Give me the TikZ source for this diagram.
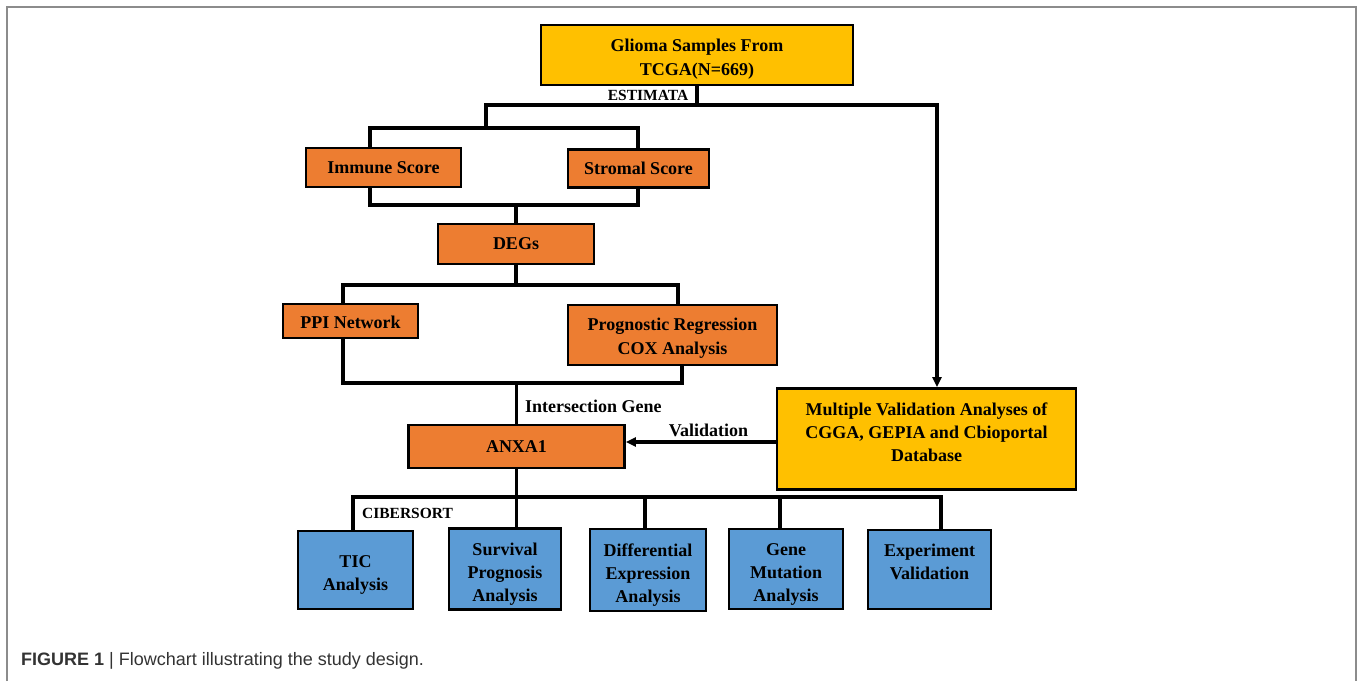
\documentclass[tikz,border=0pt]{standalone}
\usepackage{fontspec}
\setmainfont{Liberation Serif}
\newfontfamily\capfont{Liberation Sans}
\usetikzlibrary{arrows.meta}
\definecolor{goldbox}{HTML}{FFC000}
\definecolor{orangebox}{HTML}{ED7D31}
\definecolor{bluebox}{HTML}{5B9BD5}
\definecolor{framegray}{HTML}{8C8C8C}
\newcommand\topgap[1]{\rule{0pt}{#1}}
\newcommand\botgap[1]{\rule[-#1]{0pt}{0pt}}
\begin{document}
\begin{tikzpicture}[x=1pt,y=-1pt,
  box/.style={draw=black, line width=2.8pt, align=center, inner sep=2pt,
    font=\bfseries\fontsize{18}{23}\selectfont},
  gbox/.style={box, fill=goldbox},
  obox/.style={box, fill=orangebox},
  bbox/.style={box, fill=bluebox},
  conn/.style={draw=black, line width=3.1pt},
  arr/.style={conn, -{Triangle[length=10pt,width=9pt]}},
  lab/.style={inner sep=0pt, font=\bfseries\fontsize{18}{22}\selectfont},
  slab/.style={inner sep=0pt, font=\bfseries\fontsize{15.5}{18}\selectfont},
  capt/.style={inner sep=0pt, text=black!80, font=\capfont\fontsize{18}{22}\selectfont}
]
\useasboundingbox (0,0) rectangle (1360,681);
% frame
\coordinate (fBL) at (7,681);
\coordinate (fTL) at (7,7);
\coordinate (fTR) at (1356,7);
\coordinate (fBR) at (1356,681);
\draw[framegray, line width=1.8pt] (fBL) -- (fTL) -- (fTR) -- (fBR);

% nodes
\node[gbox, minimum width=312pt, minimum height=60pt] (glioma) at (697,55)
  {\topgap{21pt}Glioma Samples From\\[1pt]TCGA(N=669)};
\node[obox, minimum width=155pt, minimum height=39pt] (immune) at (383.5,167.5) {Immune Score};
\node[obox, minimum width=141pt, minimum height=38pt] (stromal) at (638.5,168.5) {Stromal Score};
\node[obox, minimum width=156pt, minimum height=40pt] (degs) at (516,244) {DEGs};
\node[obox, minimum width=135pt, minimum height=34pt] (ppi) at (350.5,321) {\topgap{16pt}PPI Network};
\node[obox, minimum width=209pt, minimum height=60pt] (prog) at (672.5,335)
  {\topgap{19pt}Prognostic Regression\\[1pt]COX Analysis};
\node[obox, minimum width=216pt, minimum height=43pt] (anxa) at (516.5,446.5) {ANXA1};
\node[gbox, minimum width=299pt, minimum height=101pt] (multi) at (926.5,439)
  {Multiple Validation Analyses of\\CGGA, GEPIA and Cbioportal\\Database\botgap{14pt}};
\node[bbox, minimum width=115pt, minimum height=78pt] (tic) at (355.5,570) {\topgap{22pt}TIC\\Analysis};
\node[bbox, minimum width=112pt, minimum height=81pt] (surv) at (505,569) {\topgap{22pt}Survival\\Prognosis\\Analysis};
\node[bbox, minimum width=116pt, minimum height=82pt] (diff) at (648,570) {\topgap{22pt}Differential\\Expression\\Analysis};
\node[bbox, minimum width=114pt, minimum height=80pt] (gene) at (786,569) {\topgap{22pt}Gene\\Mutation\\Analysis};
\node[bbox, minimum width=123pt, minimum height=79pt] (expt) at (929.5,569.5) {\topgap{22pt}Experiment\\Validation\\[-4pt]\strut};

% bus coordinates
\coordinate (b1L) at (486,105);
\coordinate (b1R) at (937,105);
\coordinate (b2L) at (370,128);
\coordinate (b2R) at (638,128);
\coordinate (b3L) at (370,205);
\coordinate (b3R) at (638,205);
\coordinate (b4L) at (343,285);
\coordinate (b4R) at (678,285);
\coordinate (b5L) at (343,383);
\coordinate (b5R) at (682,383);
\coordinate (b6L) at (353,497);
\coordinate (b6R) at (941,497);
\coordinate (d3) at (645,497);
\coordinate (d4) at (780,497);
\coordinate (vin) at ([yshift=-3pt]multi.west);

% connectors
\draw[conn] (glioma.south) -- (glioma.south |- b1L);
\draw[arr] (b1L |- b2L) -- (b1L) -- (b1R) -- (b1R |- multi.north);
\draw[conn] (immune.north -| b2L) -- (b2L) -- (b2R) -- (stromal.north -| b2R);
\draw[conn] (immune.south -| b3L) -- (b3L) -- (b3R) -- (stromal.south -| b3R);
\draw[conn] (degs.north |- b3L) -- (degs.north);
\draw[conn] (degs.south) -- (degs.south |- b4L);
\draw[conn] (ppi.north -| b4L) -- (b4L) -- (b4R) -- (prog.north -| b4R);
\draw[conn] (ppi.south -| b5L) -- (b5L) -- (b5R) -- (prog.south -| b5R);
\draw[conn] (anxa.north |- b5L) -- (anxa.north);
\draw[arr] (vin) -- (vin -| anxa.east);
\draw[conn] (anxa.south) -- (anxa.south |- surv.north);
\draw[conn] (tic.north -| b6L) -- (b6L) -- (b6R) -- (expt.north -| b6R);
\draw[conn] (d3) -- (d3 |- diff.north);
\draw[conn] (d4) -- (d4 |- gene.north);

% labels
\node[slab] (estimata) at (648,95) {ESTIMATA};
\node[lab, anchor=west] (inter) at (525,406) {Intersection Gene};
\node[lab] (valid) at (708.5,430) {Validation};
\node[slab] (cibersort) at (407.5,513) {CIBERSORT};

% caption
\node[capt, anchor=west] (caption) at (21,661) {{\bfseries FIGURE 1} | Flowchart illustrating the study design.};
\end{tikzpicture}
\end{document}
